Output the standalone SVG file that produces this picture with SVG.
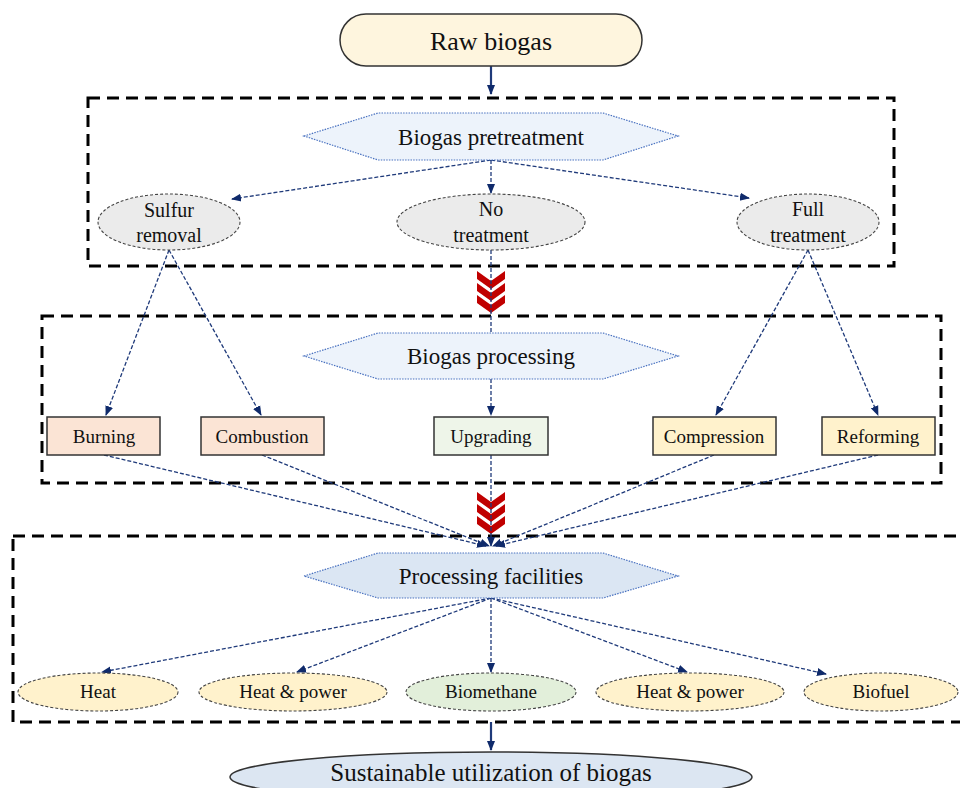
<svg xmlns="http://www.w3.org/2000/svg" width="960" height="788" viewBox="0 0 960 788">
<style>
text{font-family:"Liberation Serif","Times New Roman",serif;fill:#111;text-anchor:middle}
.box{fill:none;stroke:#000;stroke-width:3;stroke-dasharray:12 7}
.hex{stroke:#4a72c0;stroke-width:1.2;stroke-dasharray:1.5 1.2}
.ell{stroke:#444;stroke-width:1.1;stroke-dasharray:3 2}
.rect{stroke:#333;stroke-width:1.5}
.con{fill:none;stroke:#1f3a7a;stroke-width:1.3;stroke-dasharray:4 2}
.solid{fill:none;stroke:#1f3a7a;stroke-width:2.2}
.chev{fill:#c00000}
</style>
<defs>
<marker id="ah" markerUnits="userSpaceOnUse" markerWidth="10" markerHeight="10" viewBox="0 0 10 10" refX="9" refY="5" orient="auto">
<path d="M0,1 L10,5 L0,9 Z" fill="#0f2a6b"/>
</marker>
</defs>
<rect width="960" height="788" fill="#fff"/>

<g id="frames">
<rect class="box" x="88" y="98" width="806" height="168"/>
<rect class="box" x="42" y="316" width="899" height="167"/>
<rect class="box" x="13" y="536" width="952" height="186"/>
</g>

<g id="chevrons">
<polygon class="chev" points="477,271 491,281 505,271 505,279 491,289 477,279"/>
<polygon class="chev" points="477,283 491,293 505,283 505,291 491,301 477,291"/>
<polygon class="chev" points="477,295 491,305 505,295 505,303 491,313 477,303"/>
<polygon class="chev" points="477,492 491,502 505,492 505,500 491,510 477,500"/>
<polygon class="chev" points="477,504 491,514 505,504 505,512 491,522 477,512"/>
<polygon class="chev" points="477,516 491,526 505,516 505,524 491,534 477,524"/>
</g>

<g id="connectors">
<line class="solid" x1="491" y1="66" x2="491" y2="94" marker-end="url(#ah)"/>
<line class="con" x1="491" y1="160" x2="232" y2="199" marker-end="url(#ah)"/>
<line class="con" x1="491" y1="160" x2="491" y2="193" marker-end="url(#ah)"/>
<line class="con" x1="491" y1="160" x2="749" y2="198" marker-end="url(#ah)"/>
<line class="con" x1="491" y1="250" x2="491" y2="333"/>
<line class="con" x1="169" y1="250" x2="106" y2="415" marker-end="url(#ah)"/>
<line class="con" x1="169" y1="250" x2="261" y2="415" marker-end="url(#ah)"/>
<line class="con" x1="808" y1="250" x2="716" y2="415" marker-end="url(#ah)"/>
<line class="con" x1="808" y1="250" x2="878" y2="415" marker-end="url(#ah)"/>
<line class="con" x1="491" y1="379" x2="491" y2="415" marker-end="url(#ah)"/>
<line class="con" x1="491" y1="455" x2="491" y2="546" marker-end="url(#ah)"/>
<line class="con" x1="104" y1="455" x2="486" y2="546" marker-end="url(#ah)"/>
<line class="con" x1="262" y1="455" x2="489" y2="546" marker-end="url(#ah)"/>
<line class="con" x1="714" y1="455" x2="493" y2="546" marker-end="url(#ah)"/>
<line class="con" x1="878" y1="455" x2="496" y2="546" marker-end="url(#ah)"/>
<line class="con" x1="491" y1="598" x2="102" y2="672" marker-end="url(#ah)"/>
<line class="con" x1="491" y1="598" x2="297" y2="672" marker-end="url(#ah)"/>
<line class="con" x1="491" y1="598" x2="491" y2="672" marker-end="url(#ah)"/>
<line class="con" x1="491" y1="598" x2="687" y2="672" marker-end="url(#ah)"/>
<line class="con" x1="491" y1="598" x2="826" y2="674" marker-end="url(#ah)"/>
<line class="solid" x1="491" y1="722" x2="491" y2="750" marker-end="url(#ah)"/>
</g>

<g id="raw-biogas">
<rect x="340" y="14" width="302" height="52" rx="26" fill="#fef5de" stroke="#333" stroke-width="1.5"/>
<text x="491" y="50" font-size="26">Raw biogas</text>
</g>

<g id="biogas-pretreatment">
<polygon class="hex" fill="#edf3fb" points="304,136 378,113 603,113 678,136 603,160 378,160"/>
<text x="491" y="145" font-size="23">Biogas pretreatment</text>
</g>

<g id="sulfur-removal">
<ellipse class="ell" cx="169" cy="222" rx="71" ry="28" fill="#ebebeb"/>
<text x="169" y="217" font-size="20">Sulfur</text>
<text x="169" y="242" font-size="20">removal</text>
</g>
<g id="no-treatment">
<ellipse class="ell" cx="491" cy="222" rx="94" ry="28" fill="#ebebeb"/>
<text x="491" y="216" font-size="20">No</text>
<text x="491" y="242" font-size="20">treatment</text>
</g>
<g id="full-treatment">
<ellipse class="ell" cx="808" cy="222" rx="71" ry="28" fill="#ebebeb"/>
<text x="808" y="216" font-size="20">Full</text>
<text x="808" y="242" font-size="20">treatment</text>
</g>

<g id="biogas-processing">
<polygon class="hex" fill="#edf3fb" points="304,356 378,333 603,333 678,356 603,379 378,379"/>
<text x="491" y="364" font-size="23">Biogas processing</text>
</g>

<g id="burning">
<rect class="rect" x="47" y="417" width="113" height="38" fill="#fbe4d5"/>
<text x="104" y="443" font-size="19">Burning</text>
</g>
<g id="combustion">
<rect class="rect" x="201" y="417" width="123" height="38" fill="#fbe4d5"/>
<text x="262" y="443" font-size="19">Combustion</text>
</g>
<g id="upgrading">
<rect class="rect" x="434" y="417" width="114" height="38" fill="#eef5e9"/>
<text x="491" y="443" font-size="19">Upgrading</text>
</g>
<g id="compression">
<rect class="rect" x="653" y="417" width="123" height="38" fill="#fff2cc"/>
<text x="714" y="443" font-size="19">Compression</text>
</g>
<g id="reforming">
<rect class="rect" x="822" y="417" width="113" height="38" fill="#fff2cc"/>
<text x="878" y="443" font-size="19">Reforming</text>
</g>

<g id="processing-facilities">
<polygon class="hex" fill="#dbe6f3" points="304,576 378,553 603,553 678,576 603,598 378,598"/>
<text x="491" y="584" font-size="23">Processing facilities</text>
</g>

<g id="heat">
<ellipse class="ell" cx="98" cy="692" rx="80" ry="19" fill="#fff2cc"/>
<text x="98" y="698" font-size="19">Heat</text>
</g>
<g id="heat-power-1">
<ellipse class="ell" cx="293" cy="692" rx="94" ry="19" fill="#fff2cc"/>
<text x="293" y="698" font-size="19">Heat &amp; power</text>
</g>
<g id="biomethane">
<ellipse class="ell" cx="491" cy="692" rx="85" ry="19" fill="#e2efda"/>
<text x="491" y="698" font-size="19">Biomethane</text>
</g>
<g id="heat-power-2">
<ellipse class="ell" cx="690" cy="692" rx="94" ry="19" fill="#fff2cc"/>
<text x="690" y="698" font-size="19">Heat &amp; power</text>
</g>
<g id="biofuel">
<ellipse class="ell" cx="881" cy="692" rx="77" ry="19" fill="#fff2cc"/>
<text x="881" y="698" font-size="19">Biofuel</text>
</g>

<g id="sustainable-utilization">
<ellipse cx="491" cy="777" rx="261" ry="25" fill="#dce6f2" stroke="#333" stroke-width="1.5"/>
<text x="491" y="781" font-size="25">Sustainable utilization of biogas</text>
</g>
</svg>
